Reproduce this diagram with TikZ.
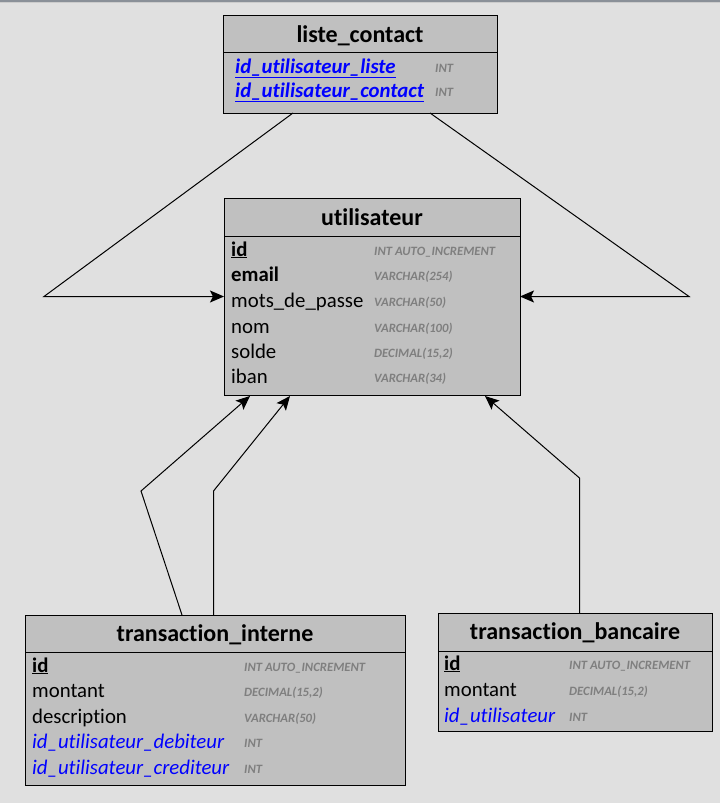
\documentclass[tikz,border=0pt]{standalone}
\usepackage{fontspec}
\setmainfont{Carlito}[Ligatures={NoCommon}]
\usetikzlibrary{arrows.meta}
\definecolor{bg}{HTML}{E0E0E0}
\definecolor{tblfill}{HTML}{C0C0C0}
\definecolor{typegray}{HTML}{7F7F7F}
\definecolor{fkblue}{HTML}{0000FF}
\definecolor{topline}{HTML}{8A9098}
\tikzset{
  tbl/.style={draw=black, line width=1pt, fill=tblfill, anchor=north west, inner sep=0pt},
  sep/.style={draw=black, line width=1pt},
  ttl/.style={anchor=base, inner sep=0pt, font=\fontsize{24}{24}\selectfont\bfseries},
  fld/.style={anchor=base west, inner sep=0pt, font=\fontsize{20.8}{20.8}\selectfont},
  typ/.style={anchor=base west, inner sep=0pt, text=typegray, font=\fontsize{12.7}{12.7}\selectfont\bfseries\itshape},
  conn/.style={draw=black, line width=1pt},
  arr/.style={conn, -{Stealth[length=14pt, width=12pt, inset=3pt]}},
}
\newcommand{\pk}[1]{\underline{\textbf{#1}}}
\newcommand{\fkpk}[1]{\textcolor{fkblue}{\underline{\textbf{\textit{#1}}}}}
\newcommand{\fk}[1]{\textcolor{fkblue}{\textit{#1}}}
\begin{document}
\begin{tikzpicture}[x=1pt, y=-1pt]
\useasboundingbox (0,0) rectangle (720,803);
\fill[bg] (0,0) rectangle (720,803);
\draw[topline, line width=1.5pt] (0,1) -- (720,1);
\draw[gray!40, line width=1pt] (0,2.5) -- (720,2.5);

% liste_contact
\node[tbl, minimum width=274, minimum height=98] (lc) at (223,15) {};
\draw[sep] (223,52) -- (497,52);
\node[ttl] (lct) at (360,42) {liste\_contact};
\node[fld] (lcf1) at (235,73) {\fkpk{id\_utilisateur\_liste}};
\node[fld] (lcf2) at (235,97) {\fkpk{id\_utilisateur\_contact}};
\node[typ] (lcy1) at (435,72) {INT};
\node[typ] (lcy2) at (435,96) {INT};

% utilisateur
\node[tbl, minimum width=296, minimum height=197] (u) at (224,198) {};
\draw[sep] (224,236) -- (520,236);
\node[ttl] (ut) at (372,225) {utilisateur};
\node[fld] (uf1) at (231,256) {\pk{id}};
\node[fld] (uf2) at (231,281.5) {\textbf{email}};
\node[fld] (uf3) at (231,307) {mots\_de\_passe};
\node[fld] (uf4) at (231,333) {nom};
\node[fld] (uf5) at (231,358) {solde};
\node[fld] (uf6) at (231,383) {iban};
\node[typ] (uy1) at (374,255) {INT AUTO\_INCREMENT};
\node[typ] (uy2) at (374,280.5) {VARCHAR(254)};
\node[typ] (uy3) at (374,306) {VARCHAR(50)};
\node[typ] (uy4) at (374,332) {VARCHAR(100)};
\node[typ] (uy5) at (374,357) {DECIMAL(15,2)};
\node[typ] (uy6) at (374,382) {VARCHAR(34)};

% transaction_interne
\node[tbl, minimum width=380, minimum height=170] (ti) at (25,615) {};
\draw[sep] (25,652) -- (405,652);
\node[ttl] (tit) at (215,641) {transaction\_interne};
\node[fld] (tif1) at (32,672) {\pk{id}};
\node[fld] (tif2) at (32,697) {montant};
\node[fld] (tif3) at (32,723) {description};
\node[fld] (tif4) at (32,748) {\fk{id\_utilisateur\_debiteur}};
\node[fld] (tif5) at (32,774) {\fk{id\_utilisateur\_crediteur}};
\node[typ] (tiy1) at (244,671) {INT AUTO\_INCREMENT};
\node[typ] (tiy2) at (244,696) {DECIMAL(15,2)};
\node[typ] (tiy3) at (244,722) {VARCHAR(50)};
\node[typ] (tiy4) at (244,747) {INT};
\node[typ] (tiy5) at (244,773) {INT};

% transaction_bancaire
\node[tbl, minimum width=274, minimum height=118] (tb) at (438,613) {};
\draw[sep] (438,651) -- (712,651);
\node[ttl] (tbt) at (575,639) {transaction\_bancaire};
\node[fld] (tbf1) at (444,670) {\pk{id}};
\node[fld] (tbf2) at (444,696) {montant};
\node[fld] (tbf3) at (444,722) {\fk{id\_utilisateur}};
\node[typ] (tby1) at (569,669) {INT AUTO\_INCREMENT};
\node[typ] (tby2) at (569,695) {DECIMAL(15,2)};
\node[typ] (tby3) at (569,721) {INT};

% connector endpoints
\coordinate (lcA) at (293,113);
\coordinate (lcB) at (430,113);
\coordinate (bendA) at (44,296.5);
\coordinate (bendB) at (689,296.5);
\coordinate (uL) at (224,296.5);
\coordinate (uR) at (520,296.5);
\coordinate (tiA) at (182,615);
\coordinate (tiB) at (213.5,615);
\coordinate (bendC) at (141,491);
\coordinate (bendD) at (213.5,491);
\coordinate (uA) at (250,396);
\coordinate (uB) at (290,396);
\coordinate (tbA) at (579.5,613);
\coordinate (bendE) at (579.5,478);
\coordinate (uC) at (485,396);

\draw[arr] (lcA) -- (bendA) -- (uL);
\draw[arr] (lcB) -- (bendB) -- (uR);
\draw[arr] (tiA) -- (bendC) -- (uA);
\draw[arr] (tiB) -- (bendD) -- (uB);
\draw[arr] (tbA) -- (bendE) -- (uC);
\end{tikzpicture}
\end{document}
